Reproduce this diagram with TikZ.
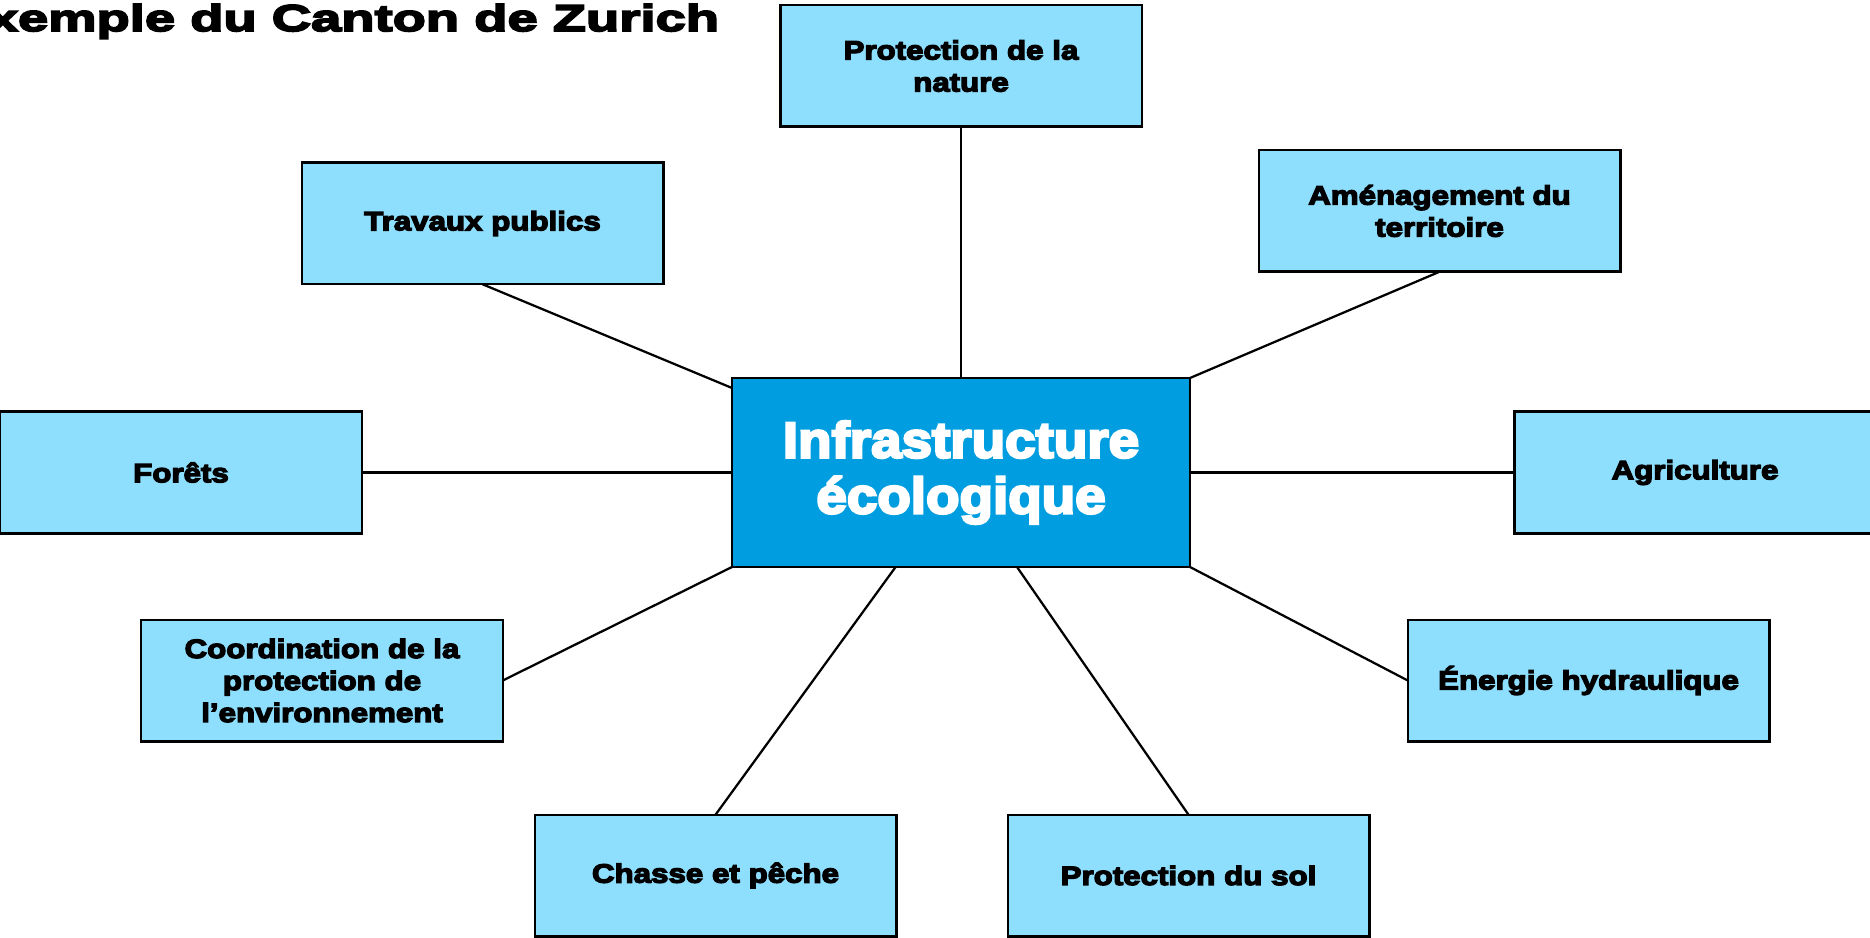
\documentclass[tikz,border=0pt]{standalone}
\usepackage{fontspec}
\usetikzlibrary{calc}
\setmainfont{Liberation Sans}
\newfontfamily\boxfont{Liberation Sans}[FakeStretch=1.18,FakeBold=5]
\newfontfamily\hubfont{Liberation Sans}[FakeStretch=1.085,FakeBold=5]
\newfontfamily\titlefont{Liberation Sans}[FakeStretch=1.46,FakeBold=5]
\definecolor{lightbox}{RGB}{142,222,253}
\definecolor{darkbox}{RGB}{0,158,224}
\tikzset{
  topic/.style={draw=black, line width=1pt, fill=lightbox,
    minimum width=144.6pt, minimum height=48.6pt, inner sep=0pt, outer sep=0pt,
    align=center, text width=142pt,
    font=\boxfont\bfseries\fontsize{10.6}{12.8}\selectfont},
  hub/.style={draw=black, line width=1pt, fill=darkbox, text=white,
    minimum width=183.2pt, minimum height=75.6pt, inner sep=0pt, outer sep=0pt,
    align=center, text width=180pt,
    font=\hubfont\bfseries\fontsize{20.2}{22.3}\selectfont},
  link/.style={draw=black, line width=0.9pt},
  titletext/.style={anchor=base east, inner sep=0pt, outer sep=0pt,
    font=\titlefont\bfseries\fontsize{14.9}{16}\selectfont}
}
\begin{document}
\begin{tikzpicture}[x=0.4pt,y=-0.4pt]
\useasboundingbox (0,0) rectangle (1870,938);
\node[titletext] (title) at (719,31) {Exemple du Canton de Zurich};

\node[hub] (c) at (961,472.5) {Infrastructure\\écologique};

\node[topic] (nat) at (961,66) {Protection de la\\nature};
\node[topic] (trav) at (482.5,223.5) {Travaux publics};
\node[topic] (amen) at (1439.5,211) {Aménagement du\\territoire};
\node[topic] (for) at (181,472.5) {Forêts};
\node[topic] (agri) at (1695,472.5) {Agriculture};
\node[topic] (coord) at (322,680.5) {Coordination de la\\protection de\\l’environnement};
\node[topic] (ener) at (1588.5,680.5) {Énergie hydraulique};
\node[topic] (chasse) at (715.5,875.5) {Chasse et pêche};
\node[topic] (sol) at (1188.5,875.5) {Protection du sol};

\coordinate (ctrav) at ($(c.north west)+(0,10)$);
\coordinate (cchasse) at ($(c.south west)+(163.6,0)$);
\coordinate (csol) at ($(c.south west)+(285,0)$);

\draw[link] (nat.south) -- (c.north);
\draw[link] (trav.south) -- (ctrav);
\draw[link] (amen.south) -- (c.north east);
\draw[link] (for.east) -- (c.west);
\draw[link] (c.east) -- (agri.west);
\draw[link] (coord.east) -- (c.south west);
\draw[link] (c.south east) -- (ener.west);
\draw[link] (chasse.north) -- (cchasse);
\draw[link] (sol.north) -- (csol);
\end{tikzpicture}
\end{document}
